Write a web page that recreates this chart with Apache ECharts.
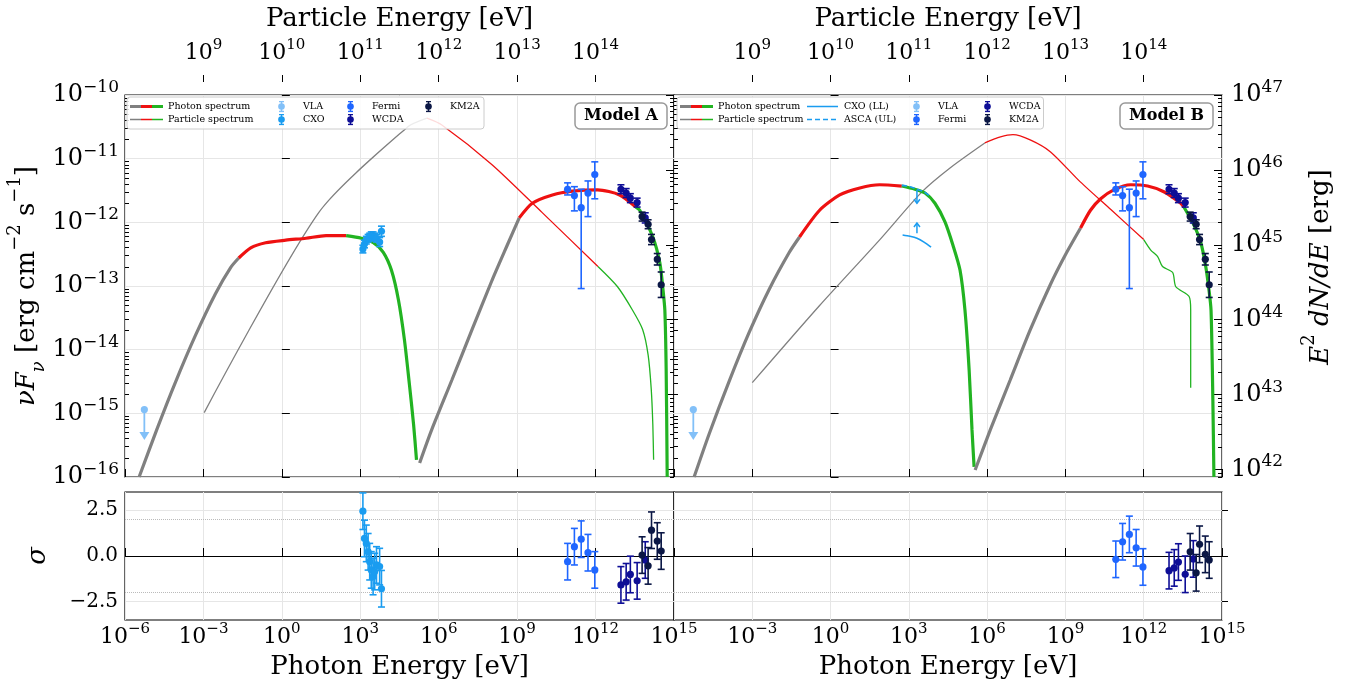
<!DOCTYPE html>
<html>
<head>
<meta charset="utf-8">
<title>SED models A and B</title>
<script src="https://cdn.jsdelivr.net/npm/echarts@6/dist/echarts.min.js"></script>
<style>
html, body { margin: 0; padding: 0; background: #fff; }
#main { width: 1348px; height: 689px; }
</style>
</head>
<body>
<div id="main"></div>
<script>
// all values are log10: photon energy [eV], nuFnu [erg cm-2 s-1],
// particle energy [eV], E^2 dN/dE [erg]

// ---- Model A curves ----
var synA_grey = [[-5.46,-16.0],[-4.77,-15.24],[-4.08,-14.52],[-3.31,-13.78],[-2.54,-13.12],[-1.96,-12.71],[-1.65,-12.56]];
var synA_red = [[-1.65,-12.56],[-1.19,-12.40],[-0.62,-12.32],[0.15,-12.28],[0.92,-12.25],[1.69,-12.21],[2.46,-12.21]];
var synA_green = [[2.46,-12.21],[3.04,-12.25],[3.5,-12.32],[3.88,-12.47],[4.19,-12.75],[4.46,-13.22],[4.69,-13.85],[4.88,-14.55],[5.04,-15.18],[5.15,-15.73]];
var icA_grey = [[5.27,-15.78],[5.73,-15.26],[6.5,-14.48],[7.27,-13.69],[8.04,-12.91],[8.62,-12.36],[9.08,-11.93]];
var icA_red = [[9.08,-11.93],[9.58,-11.70],[10.35,-11.57],[11.12,-11.51],[12.08,-11.49],[12.92,-11.57],[13.54,-11.76]];
var icA_green = [[13.54,-11.76],[13.69,-11.81],[14.19,-12.23],[14.46,-12.64],[14.58,-13.06],[14.65,-13.38],[14.70,-14.3],[14.74,-16.0]];
var parA_grey = [[9.01,42.76],[10.47,45.43],[11.6,46.57],[11.85,46.69]];
var parA_red = [[11.85,46.69],[12.04,46.6],[12.68,46.07],[13.32,45.43],[14.03,44.71]];
var parA_green = [[14.03,44.71],[14.28,44.44],[14.47,44.13],[14.6,43.87],[14.67,43.53],[14.71,43.07],[14.73,42.6],[14.74,42.13]];

// ---- Model B curves ----
var synB_grey = [[-5.23,-16.0],[-4.65,-15.32],[-3.88,-14.49],[-3.12,-13.73],[-2.35,-13.05],[-1.58,-12.47],[-1.19,-12.23]];
var synB_red = [[-1.19,-12.23],[-0.42,-11.81],[0.35,-11.57],[1.12,-11.46],[1.88,-11.41],[2.73,-11.43]];
var synB_green = [[2.73,-11.43],[3.23,-11.48],[3.62,-11.54],[4.0,-11.70],[4.38,-11.99],[4.69,-12.36],[4.96,-12.75],[5.15,-13.38],[5.31,-14.32],[5.42,-15.26],[5.5,-15.84]];
var icB_grey = [[5.54,-15.89],[6.12,-15.26],[6.88,-14.48],[7.65,-13.69],[8.42,-12.98],[9.0,-12.51],[9.58,-12.09]];
var icB_red = [[9.58,-12.09],[9.96,-11.81],[10.35,-11.63],[10.85,-11.49],[11.5,-11.41],[12.15,-11.43],[12.77,-11.52],[13.42,-11.70],[13.54,-11.76]];
var icB_green = [[13.54,-11.76],[13.92,-12.04],[14.19,-12.32],[14.38,-12.70],[14.5,-13.06],[14.58,-13.38],[14.65,-14.79],[14.69,-16.0]];
var parB_grey = [[9.0,43.16],[9.86,44.19],[10.63,45.07],[11.17,45.71],[11.53,46.03],[11.97,46.36]];
var parB_red = [[11.97,46.36],[12.17,46.44],[12.33,46.47],[12.55,46.4],[12.81,46.24],[13.19,45.84],[13.58,45.47],[14.0,45.07]];
var parB_green = [[14.0,45.07],[14.09,44.93],[14.18,44.84],[14.24,44.71],[14.37,44.63],[14.41,44.44],[14.58,44.31],[14.6,44.13],[14.6,43.09]];
var cxoLL = [[2.76,-12.20],[3.04,-12.22],[3.31,-12.25],[3.58,-12.31],[3.85,-12.39]];
var ascaUL = [[2.73,-11.42],[3.04,-11.44],[3.31,-11.48],[3.58,-11.52],[3.81,-11.59]];

// ---- data points ----
var vlaE = -5.26, vlaF = -14.94;
var cxoE = [3.10,3.16,3.23,3.30,3.36,3.42,3.49,3.55,3.62,3.74,3.81];
var cxoF = [-12.42,-12.34,-12.28,-12.25,-12.23,-12.21,-12.21,-12.23,-12.25,-12.31,-12.14];
var cxoErr = [0.06,0.06,0.06,0.06,0.06,0.06,0.06,0.06,0.06,0.07,0.08];
var fermiE = [10.93,11.19,11.45,11.71,11.97];
var fermiF = [-11.48,-11.58,-11.77,-11.54,-11.25];
var fermiLo = [-11.57,-11.82,-13.04,-11.91,-11.63];
var fermiHi = [-11.38,-11.44,-11.48,-11.35,-11.05];
var wcdaE = [12.97,13.17,13.33,13.59,13.90];
var wcdaF = [-11.48,-11.54,-11.62,-11.69,-11.93];
var wcdaErr = [0.07,0.07,0.07,0.07,0.08];
var km2aE = [13.78,14.01,14.14,14.36,14.51];
var km2aF = [-11.91,-12.03,-12.27,-12.58,-12.98];
var km2aErr = [0.07,0.07,0.08,0.09,0.2];

// ---- residuals (sigma) ----
var resA_cxo = [2.45,0.96,0.69,0.23,-0.31,-0.76,-1.12,-0.85,-0.49,-0.58,-1.79];
var resA_fermi = [-0.31,0.51,0.92,0.18,-0.76];
var resA_wcda = [-1.58,-1.41,-1.01,-1.36,-0.22];
var resA_km2a = [0.05,-0.54,1.41,0.82,0.27];
var resB_fermi = [-0.18,0.78,1.18,0.45,-0.6];
var resB_wcda = [-0.8,-0.65,-0.33,-1.0,-0.16];
var resB_km2a = [0.23,-0.92,0.64,0.09,-0.22];

// ---- tick labels ----
var photonLabelsA = [-6,-3,0,3,6,9,12,15];
var photonLabelsB = [-3,0,3,6,9,12,15];
var particleLabels = [9,10,11,12,13,14];
var fluxLabels = [-16,-15,-14,-13,-12,-11,-10];
var energyLabels = [42,43,44,45,46,47];
var sigmaLabels = [-2.5,0,2.5];

var FONT = 'DejaVu Serif';
var GREY = '#808080', RED = '#ee1111', GREEN = '#22b322';
var C_VLA = '#82c0f8', C_CXO = '#1a9cf0', C_FERMI = '#1f66ff', C_WCDA = '#0e0e96', C_KM2A = '#0b1745';

function supLabel(v) {
  var n = Math.round(v);
  return '{b|10}{s|' + (n < 0 ? '\u2212' + (-n) : n) + '}';
}
function rich(size) {
  return {
    b: {fontFamily: FONT, fontSize: size, color: '#000', lineHeight: size + 8},
    s: {fontFamily: FONT, fontSize: Math.round(size * 0.7), color: '#000', verticalAlign: 'top', lineHeight: Math.round(size * 0.75)}
  };
}
function minors(lo, hi) {
  var out = [];
  for (var n = Math.floor(lo); n < hi; n++) {
    for (var k = 2; k <= 9; k++) {
      var v = n + Math.log10(k);
      if (v > lo && v < hi) out.push(v);
    }
  }
  return out;
}

function icon(svg) {
  return 'image://data:image/svg+xml;charset=utf-8,' + encodeURIComponent(
    '<svg xmlns="http://www.w3.org/2000/svg" width="33" height="12" viewBox="0 0 33 12">' + svg + '</svg>');
}
function tri(w) {
  return '<path d="M0 6H11" stroke="' + GREY + '" stroke-width="' + w + '"/>' +
         '<path d="M11 6H22" stroke="' + RED + '" stroke-width="' + w + '"/>' +
         '<path d="M22 6H33" stroke="' + GREEN + '" stroke-width="' + w + '"/>';
}
function iconErr(c) {
  return icon('<path d="M16.5 1V11M14 1H19M14 11H19" stroke="' + c + '" stroke-width="1.5" fill="none"/>' +
              '<circle cx="16.5" cy="6" r="3.3" fill="' + c + '"/>');
}
var ICON_PHOTON = icon(tri(3));
var ICON_PARTICLE = icon(tri(1.3));
var ICON_LL = icon('<path d="M1 6H32" stroke="' + C_CXO + '" stroke-width="1.6"/>');
var ICON_UL = icon('<path d="M1 6H32" stroke="' + C_CXO + '" stroke-width="1.6" stroke-dasharray="5 3"/>');

// ---- axes ----
function photonX(grid, labels) {
  var ax = {
    type: 'value', gridIndex: grid, min: -6, max: 15, interval: 3, position: 'bottom',
    axisLine: {show: false},
    axisTick: {show: true, inside: true, length: 8, lineStyle: {color: '#000'}},
    axisLabel: {show: false},
    splitLine: {show: true, lineStyle: {color: '#e6e6e6', width: 1}}
  };
  if (labels) {
    ax.axisLabel = {show: true, customValues: labels, formatter: supLabel, rich: rich(22), margin: 2};
    ax.name = 'Photon Energy [eV]';
    ax.nameLocation = 'middle';
    ax.nameGap = 34;
    ax.nameTextStyle = {fontFamily: FONT, fontSize: 26, color: '#000'};
  }
  return ax;
}
function particleX(grid) {
  return {
    type: 'value', gridIndex: grid, position: 'top', offset: 13, min: 8, max: 15,
    axisLine: {show: false},
    axisTick: {show: true, inside: false, length: 7, customValues: particleLabels, lineStyle: {color: '#000'}},
    axisLabel: {customValues: particleLabels, formatter: supLabel, rich: rich(22), margin: 14},
    splitLine: {show: false},
    name: 'Particle Energy [eV]', nameLocation: 'middle', nameGap: 50,
    nameTextStyle: {fontFamily: FONT, fontSize: 26, color: '#000'}
  };
}
function yAxisLog(grid, pos, min, max, majors, labels, split) {
  return {
    type: 'value', gridIndex: grid, position: pos, min: min, max: max,
    axisLine: {show: false},
    axisTick: {show: true, inside: true, length: 8, customValues: majors, lineStyle: {color: '#000'}},
    axisLabel: labels ? {customValues: majors, formatter: supLabel, rich: rich(24), margin: pos === 'left' ? 6 : 9} : {show: false},
    splitLine: split ? {show: true, lineStyle: {color: '#e6e6e6', width: 1}} : {show: false}
  };
}
function yAxisMinor(grid, pos, min, max) {
  return {
    type: 'value', gridIndex: grid, position: pos, min: min, max: max,
    axisLine: {show: false},
    axisTick: {show: true, inside: true, length: 4, customValues: minors(min, max), lineStyle: {color: '#000'}},
    axisLabel: {show: false}, splitLine: {show: false}
  };
}
function sigmaY(grid, pos, labels, inside) {
  return {
    type: 'value', gridIndex: grid, position: pos, min: -3.5, max: 3.5,
    axisLine: {show: false},
    axisTick: {show: true, inside: inside, length: inside ? 8 : 6, customValues: sigmaLabels, lineStyle: {color: '#000'}},
    axisLabel: labels ? {
      customValues: sigmaLabels, margin: 7, fontFamily: FONT, fontSize: 20, color: '#000',
      formatter: function (v) { return (v < 0 ? '\u2212' : '') + Math.abs(v).toFixed(1); }
    } : {show: false},
    splitLine: {show: false}
  };
}

var yA = yAxisLog(0, 'left', -16, -10, fluxLabels, true, true);
yA.name = '{i|\u03bdF}{sub|\u03bd} [erg cm{sup|\u22122} s{sup|\u22121}]';
yA.nameLocation = 'middle';
yA.nameRotate = 90;
yA.nameGap = 78;
yA.nameTextStyle = {fontFamily: FONT, fontSize: 26, color: '#000', rich: {
  i: {fontFamily: FONT, fontSize: 26, fontStyle: 'italic', color: '#000'},
  sub: {fontFamily: FONT, fontSize: 18, fontStyle: 'italic', color: '#000', verticalAlign: 'bottom', padding: [0, 0, -8, 0]},
  sup: {fontFamily: FONT, fontSize: 18, color: '#000', verticalAlign: 'top', padding: [-8, 0, 0, 0]}
}};

var yW = yAxisLog(1, 'right', 41.9, 47, energyLabels, true, false);
yW.name = '{i|E}{sup|2}{i| dN/dE} [erg]';
yW.nameLocation = 'middle';
yW.nameRotate = 90;
yW.nameGap = 86;
yW.nameTextStyle = {fontFamily: FONT, fontSize: 26, color: '#000', padding: [0, 0, 0, 38], rich: {
  i: {fontFamily: FONT, fontSize: 26, fontStyle: 'italic', color: '#000'},
  sup: {fontFamily: FONT, fontSize: 18, color: '#000', verticalAlign: 'top', padding: [-8, 0, 0, 0]}
}};

var ySigA = sigmaY(2, 'left', true, true);
ySigA.name = '\u03c3';
ySigA.nameLocation = 'middle';
ySigA.nameRotate = 90;
ySigA.nameGap = 74;
ySigA.nameTextStyle = {fontFamily: FONT, fontSize: 26, fontStyle: 'italic', color: '#000'};

var xAxes = [photonX(0), particleX(0), photonX(1), particleX(1), photonX(2, photonLabelsA), photonX(3, photonLabelsB)];
var yAxes = [
  yA,                                            // 0
  yAxisMinor(0, 'left', -16, -10),               // 1
  yAxisLog(0, 'right', 41.9, 47, energyLabels, false, false), // 2
  yAxisMinor(0, 'right', 41.9, 47),              // 3
  yAxisLog(1, 'left', -16, -10, fluxLabels, false, true),     // 4
  yAxisMinor(1, 'left', -16, -10),               // 5
  yW,                                            // 6
  yAxisMinor(1, 'right', 41.9, 47),              // 7
  ySigA,                                         // 8
  sigmaY(3, 'left', false, true),                // 9
  sigmaY(3, 'right', false, false)               // 10
];

// ---- series helpers ----
function curve(name, data, color, width, xi, yi, dashed) {
  return {
    name: name, type: 'line', xAxisIndex: xi, yAxisIndex: yi, data: data,
    showSymbol: false, symbol: 'none', smooth: 0.25, silent: true, z: 3,
    lineStyle: {color: color, width: width, type: dashed ? [5, 3] : 'solid'}
  };
}
function model(photonSegs, particleSegs, px, py, qx, qy) {
  var cols = [GREY, RED, GREEN], out = [];
  particleSegs.forEach(function (s, i) { out.push(curve('Particle spectrum', s, cols[i % 3], 1.3, qx, qy)); });
  photonSegs.forEach(function (s, i) { out.push(curve('Photon spectrum', s, cols[i % 3], 3.2, px, py)); });
  return out;
}
function errorBars(name, color, xs, ys, lo, hi, xi, yi) {
  var data = xs.map(function (x, i) { return [x, ys[i], lo[i], hi[i]]; });
  return {
    name: name, type: 'custom', xAxisIndex: xi, yAxisIndex: yi, z: 6, data: data,
    encode: {x: 0, y: 1},
    renderItem: function (params, api) {
      var x = api.value(0);
      var c = api.coord([x, api.value(1)]);
      var a = api.coord([x, api.value(2)]);
      var b = api.coord([x, api.value(3)]);
      var st = {stroke: color, lineWidth: 1.6};
      return {type: 'group', children: [
        {type: 'line', shape: {x1: a[0], y1: a[1], x2: b[0], y2: b[1]}, style: st},
        {type: 'line', shape: {x1: a[0] - 3.5, y1: a[1], x2: a[0] + 3.5, y2: a[1]}, style: st},
        {type: 'line', shape: {x1: b[0] - 3.5, y1: b[1], x2: b[0] + 3.5, y2: b[1]}, style: st},
        {type: 'circle', shape: {cx: c[0], cy: c[1], r: 3.6}, style: {fill: color}}
      ]};
    }
  };
}
function symErr(name, color, xs, ys, err, xi, yi) {
  return errorBars(name, color, xs, ys,
    ys.map(function (v, i) { return v - err[i]; }),
    ys.map(function (v, i) { return v + err[i]; }), xi, yi);
}
function resid(name, color, xs, ys, xi, yi) {
  return errorBars(name, color, xs, ys,
    ys.map(function (v) { return v - 1; }),
    ys.map(function (v) { return v + 1; }), xi, yi);
}
function upperLimit(name, color, x, y, len, xi, yi) {
  return {
    name: name, type: 'custom', xAxisIndex: xi, yAxisIndex: yi, z: 6,
    data: [[x, y, y - len]], encode: {x: 0, y: 1},
    renderItem: function (params, api) {
      var c = api.coord([api.value(0), api.value(1)]);
      var e = api.coord([api.value(0), api.value(2)]);
      return {type: 'group', children: [
        {type: 'line', shape: {x1: c[0], y1: c[1], x2: e[0], y2: e[1] - 6}, style: {stroke: color, lineWidth: 1.8}},
        {type: 'polygon', shape: {points: [[e[0] - 5, e[1] - 8], [e[0] + 5, e[1] - 8], [e[0], e[1]]]}, style: {fill: color}},
        {type: 'circle', shape: {cx: c[0], cy: c[1], r: 3.6}, style: {fill: color}}
      ]};
    }
  };
}
function limitArrow(name, color, x, y0, y1, xi, yi) {
  return {
    name: name, type: 'custom', xAxisIndex: xi, yAxisIndex: yi, z: 6,
    data: [[x, y0, y1]], encode: {x: 0, y: 1},
    renderItem: function (params, api) {
      var a = api.coord([api.value(0), api.value(1)]);
      var b = api.coord([api.value(0), api.value(2)]);
      var d = b[1] > a[1] ? -4 : 4;
      var st = {stroke: color, lineWidth: 1.5, fill: 'none'};
      return {type: 'group', children: [
        {type: 'line', shape: {x1: a[0], y1: a[1], x2: b[0], y2: b[1]}, style: st},
        {type: 'polyline', shape: {points: [[b[0] - 3, b[1] + d], [b[0], b[1]], [b[0] + 3, b[1] + d]]}, style: st}
      ]};
    }
  };
}
function refLines(xi, yi) {
  var grey = {color: '#e6e6e6', type: 'solid', width: 1};
  var dot = {color: '#bbbbbb', type: 'dotted', width: 1};
  return {
    name: 'ref', type: 'line', xAxisIndex: xi, yAxisIndex: yi, data: [], silent: true, z: 1,
    markLine: {
      silent: true, symbol: 'none', animation: false, label: {show: false},
      data: [
        {yAxis: 2.5, lineStyle: grey}, {yAxis: -2.5, lineStyle: grey},
        {yAxis: 2, lineStyle: dot}, {yAxis: -2, lineStyle: dot},
        {yAxis: 0, lineStyle: {color: '#000', type: 'solid', width: 1.2}}
      ]
    }
  };
}

var series = [].concat(
  model([synA_grey, synA_red, synA_green, icA_grey, icA_red, icA_green], [parA_grey, parA_red, parA_green], 0, 0, 1, 2),
  [
    upperLimit('VLA', C_VLA, vlaE, vlaF, 0.48, 0, 0),
    symErr('CXO', C_CXO, cxoE, cxoF, cxoErr, 0, 0),
    errorBars('Fermi', C_FERMI, fermiE, fermiF, fermiLo, fermiHi, 0, 0),
    symErr('WCDA', C_WCDA, wcdaE, wcdaF, wcdaErr, 0, 0),
    symErr('KM2A', C_KM2A, km2aE, km2aF, km2aErr, 0, 0)
  ],
  model([synB_grey, synB_red, synB_green, icB_grey, icB_red, icB_green], [parB_grey, parB_red, parB_green], 2, 4, 3, 6),
  [
    curve('CXO (LL)', cxoLL, C_CXO, 1.6, 2, 4),
    limitArrow('CXO (LL)', C_CXO, 3.31, -12.17, -12.01, 2, 4),
    curve('ASCA (UL)', ascaUL, C_CXO, 1.6, 2, 4, true),
    limitArrow('ASCA (UL)', C_CXO, 3.31, -11.49, -11.70, 2, 4),
    upperLimit('VLA', C_VLA, vlaE, vlaF, 0.48, 2, 4),
    errorBars('Fermi', C_FERMI, fermiE, fermiF, fermiLo, fermiHi, 2, 4),
    symErr('WCDA', C_WCDA, wcdaE, wcdaF, wcdaErr, 2, 4),
    symErr('KM2A', C_KM2A, km2aE, km2aF, km2aErr, 2, 4),

    refLines(4, 8),
    resid('CXO', C_CXO, cxoE, resA_cxo, 4, 8),
    resid('Fermi', C_FERMI, fermiE, resA_fermi, 4, 8),
    resid('WCDA', C_WCDA, wcdaE, resA_wcda, 4, 8),
    resid('KM2A', C_KM2A, km2aE, resA_km2a, 4, 8),

    refLines(5, 9),
    resid('Fermi', C_FERMI, fermiE, resB_fermi, 5, 9),
    resid('WCDA', C_WCDA, wcdaE, resB_wcda, 5, 9),
    resid('KM2A', C_KM2A, km2aE, resB_km2a, 5, 9)
  ]
);

function legendBox(left, items) {
  return {
    left: left, top: 97, orient: 'vertical', height: 26, itemGap: 0,
    itemWidth: 33, itemHeight: 12, padding: [3, 3, 3, 3],
    backgroundColor: 'rgba(255,255,255,0.85)', borderColor: '#cccccc', borderWidth: 1, borderRadius: 3,
    textStyle: {fontFamily: FONT, fontSize: 9.5, lineHeight: 13, color: '#000'},
    data: items.map(function (it) { return {name: it[0], icon: it[1], textStyle: {width: it[2]}}; })
  };
}

var option = {
  animation: false,
  backgroundColor: '#fff',
  textStyle: {fontFamily: FONT},
  title: [
    {text: 'Model A', left: 575, top: 103, padding: [5, 9, 5, 9], borderColor: '#999', borderWidth: 1.5, borderRadius: 5,
     backgroundColor: '#fff', textStyle: {fontFamily: FONT, fontWeight: 'bold', fontSize: 16, color: '#000'}},
    {text: 'Model B', left: 1120, top: 103, padding: [5, 9, 5, 9], borderColor: '#999', borderWidth: 1.5, borderRadius: 5,
     backgroundColor: '#fff', textStyle: {fontFamily: FONT, fontWeight: 'bold', fontSize: 16, color: '#000'}}
  ],
  legend: [
    legendBox(127, [['Photon spectrum', ICON_PHOTON, 97], ['Particle spectrum', ICON_PARTICLE, 97],
                    ['VLA', iconErr(C_VLA), 31], ['CXO', iconErr(C_CXO), 31],
                    ['Fermi', iconErr(C_FERMI), 40], ['WCDA', iconErr(C_WCDA), 40],
                    ['KM2A', iconErr(C_KM2A), 31]]),
    legendBox(677, [['Photon spectrum', ICON_PHOTON, 88], ['Particle spectrum', ICON_PARTICLE, 88],
                    ['CXO (LL)', ICON_LL, 56], ['ASCA (UL)', ICON_UL, 56],
                    ['VLA', iconErr(C_VLA), 33], ['Fermi', iconErr(C_FERMI), 33],
                    ['WCDA', iconErr(C_WCDA), 31], ['KM2A', iconErr(C_KM2A), 31]])
  ],
  grid: [
    {left: 125, top: 95, width: 549, height: 382, show: true, borderColor: '#000', borderWidth: 1.2, backgroundColor: 'transparent'},
    {left: 674, top: 95, width: 548, height: 382, show: true, borderColor: '#000', borderWidth: 1.2, backgroundColor: 'transparent'},
    {left: 125, top: 492, width: 549, height: 128, show: true, borderColor: '#000', borderWidth: 1.2, backgroundColor: 'transparent'},
    {left: 674, top: 492, width: 548, height: 128, show: true, borderColor: '#000', borderWidth: 1.2, backgroundColor: 'transparent'}
  ],
  xAxis: xAxes,
  yAxis: yAxes,
  series: series
};

var chart = echarts.init(document.getElementById('main'));
chart.setOption(option);
</script>
</body>
</html>
